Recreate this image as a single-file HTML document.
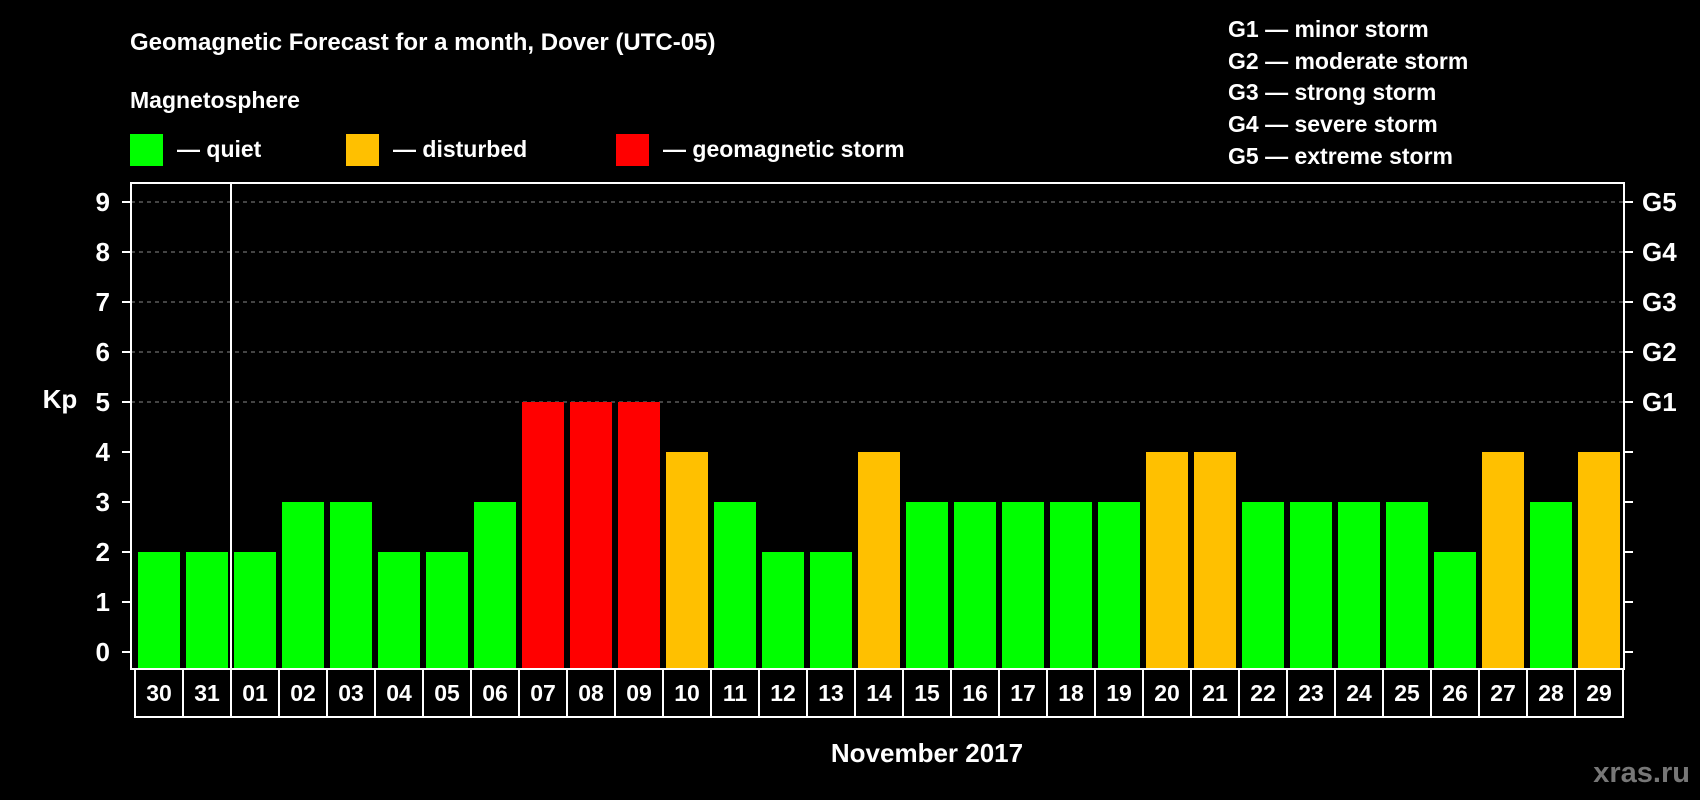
<!DOCTYPE html>
<html><head><meta charset="utf-8"><style>
html,body{margin:0;padding:0;background:#000;}
svg{display:block;font-family:"Liberation Sans",Arial,sans-serif;font-weight:bold;}
</style></head><body>
<svg id="chart" width="1700" height="800" viewBox="0 0 1700 800">
<rect width="1700" height="800" fill="#000"/>
<text x="130" y="50" fill="#fff" font-size="24">Geomagnetic Forecast for a month, Dover (UTC-05)</text>
<text x="130" y="108" fill="#fff" font-size="23">Magnetosphere</text>
<g><rect x="130" y="134" width="33" height="32" fill="#00ff00"/><text x="177" y="157" fill="#fff" font-size="23">— quiet</text></g>
<g><rect x="346" y="134" width="33" height="32" fill="#ffc000"/><text x="393" y="157" fill="#fff" font-size="23">— disturbed</text></g>
<g><rect x="616" y="134" width="33" height="32" fill="#ff0000"/><text x="663" y="157" fill="#fff" font-size="23">— geomagnetic storm</text></g>
<g fill="#fff" font-size="23">
<text x="1228" y="37">G1 — minor storm</text>
<text x="1228" y="69">G2 — moderate storm</text>
<text x="1228" y="100">G3 — strong storm</text>
<text x="1228" y="132">G4 — severe storm</text>
<text x="1228" y="164">G5 — extreme storm</text>
</g>
<g id="plot"></g>
<text x="60" y="408" fill="#fff" font-size="26" text-anchor="middle">Kp</text>
<text x="927" y="762" fill="#fff" font-size="26" text-anchor="middle">November 2017</text>
<text x="1690" y="782" fill="#777" font-size="29" text-anchor="end">xras.ru</text>
</svg>
<script>
const days = ["30","31","01","02","03","04","05","06","07","08","09","10","11","12","13","14","15","16","17","18","19","20","21","22","23","24","25","26","27","28","29"];
const kp = [2,2,2,3,3,2,2,3,5,5,5,4,3,2,2,4,3,3,3,3,3,4,4,3,3,3,3,2,4,3,4];
const yTicks = [0,1,2,3,4,5,6,7,8,9];
const gLabels = ["G1","G2","G3","G4","G5"];
const gLevels = [5,6,7,8,9];

(function(){
const NS="http://www.w3.org/2000/svg";
const plot=document.getElementById('plot');
const pL=131,pR=1624,pT=183,pB=669,x0=135,pitch=48;
const y=v=>652-v*50;
const x=i=>x0+i*pitch;
function mk(t,a){const e=document.createElementNS(NS,t);for(const k in a)e.setAttribute(k,a[k]);plot.appendChild(e);return e;}

yTicks.forEach(v=>{
  if(v>=5){const g=mk('line',{x1:pL,x2:pR,y1:y(v),y2:y(v),stroke:'#888','stroke-width':1,'stroke-dasharray':'4,4'});
  
  }
  const t1=mk('line',{x1:122,x2:pL,y1:y(v),y2:y(v),stroke:'#fff','stroke-width':2});
  
  
  const t2=mk('line',{x1:pR,x2:1633,y1:y(v),y2:y(v),stroke:'#fff','stroke-width':2});
  
  
  const l=mk('text',{x:110,y:y(v)+9,fill:'#fff','font-size':26,'text-anchor':'end'});
  l.textContent=v;
  
  
});
gLabels.forEach((g,i)=>{
  const l=mk('text',{x:1642,y:y(gLevels[i])+9,fill:'#fff','font-size':26});
  l.textContent=g;
  
  
});
kp.forEach((v,i)=>{
  const c=v>=5?'#ff0000':(v>=4?'#ffc000':'#00ff00');
  const b=mk('rect',{x:x(i)+3,y:y(v),width:42,height:y(0)-y(v)+16,fill:c});
  
  
});
const fr=mk('rect',{x:pL,y:pT,width:pR-pL,height:pB-pT,fill:'none',stroke:'#fff','stroke-width':2});


const dv=mk('line',{x1:x(2),x2:x(2),y1:pT,y2:pB,stroke:'#fff','stroke-width':2});


days.forEach((d,i)=>{
  const c=mk('rect',{x:x(i),y:pB,width:pitch,height:48,fill:'#000',stroke:'#fff','stroke-width':2});
  
  
  const t=mk('text',{x:x(i)+pitch/2,y:pB+32,fill:'#fff','font-size':23,'text-anchor':'middle'});
  t.textContent=d;
  
  
});
})();
</script>
</body></html>
